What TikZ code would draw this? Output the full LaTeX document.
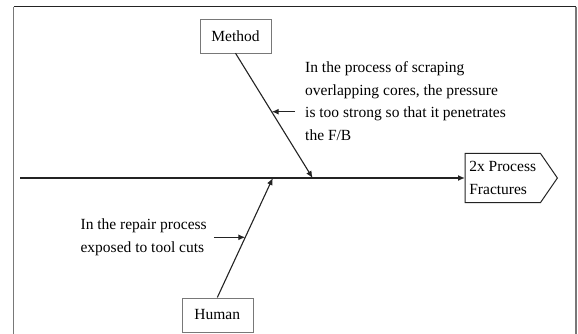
\documentclass[tikz,border=0pt]{standalone}
\usepackage{fontspec}
\setmainfont{Liberation Serif}
\usetikzlibrary{arrows.meta, positioning, calc}
\definecolor{fbline}{RGB}{35, 35, 35}
\definecolor{fbframe}{RGB}{120, 120, 120}
\newcommand{\fbfont}{\fontsize{15.5}{22.5}\selectfont}
\tikzset{
  catbox/.style={rectangle, draw=fbframe, fill=white, minimum width=71pt,
                 minimum height=34pt, inner sep=0pt, font=\fbfont},
  headbox/.style={rectangle, minimum width=75pt, minimum height=49pt,
                  inner xsep=4pt, inner ysep=0pt, align=left, font=\fbfont},
  note/.style={inner sep=0pt, align=left, font=\fbfont},
  spine/.style={-{Latex[length=7pt, width=6pt]}, line width=1.4pt, color=fbline},
  bone/.style={-{Latex[length=7pt, width=6pt]}, line width=1.1pt, color=fbline},
  cause/.style={-{Latex[length=7pt, width=6pt]}, line width=1.2pt, color=fbline},
}
\begin{document}
\begin{tikzpicture}[x=1pt, y=-1pt]
  \useasboundingbox (0,0) rectangle (578,333);
  \draw[fbframe, line width=1.3pt] (13.5,345) -- (13.5,6.7);
  \draw[fbframe, line width=1.3pt] (576,6.7) -- (576,345);
  \draw[fbline, line width=1.3pt] (13.5,6.7) -- (576,6.7);

  \node[catbox] (method) at (235.5,36) {Method};
  \node[catbox] (human) at (217.3,314.7) {Human};
  \node[headbox, anchor=west] (head) at (465,178) {2x Process\\Fractures};
  \draw[fbline, line width=1pt] (head.north west) -- (head.north east)
    -- ([xshift=17pt]head.east) -- (head.south east) -- (head.south west) -- cycle;

  \coordinate (tail) at (20,178);
  \coordinate (mjoint) at (312.6,178);
  \coordinate (hjoint) at (272.8,178);
  \draw[spine] (tail) -- (head.west);
  \draw[bone] (method.south) -- (mjoint);
  \draw[bone] (human.north) -- (hjoint);

  \node[note, anchor=west] (mnote) at (305,101)
    {In the process of scraping\\overlapping cores, the pressure\\is too strong so that it penetrates\\the F/B};
  \node[note, anchor=west] (hnote) at (80.4,237.2)
    {In the repair process\\exposed to tool cuts};

  \path (method.south) -- (mjoint) coordinate[pos=0.47] (mhit);
  \path (human.north) -- (hjoint) coordinate[pos=0.505] (hhit);
  \coordinate (marr) at (295,111.7);
  \coordinate (harr) at (213.8,237.3);
  \draw[cause] (marr) -- (marr -| mhit);
  \draw[cause] (harr) -- (harr -| hhit);
\end{tikzpicture}
\end{document}
